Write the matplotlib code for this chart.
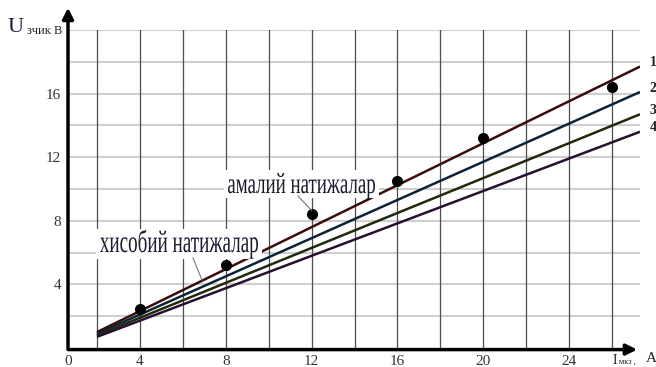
import matplotlib
matplotlib.use("Agg")
import matplotlib.pyplot as plt
import numpy as np
from matplotlib.textpath import TextPath
from matplotlib.patches import PathPatch, Rectangle
from matplotlib.font_manager import FontProperties
from matplotlib.transforms import Affine2D, IdentityTransform

# --- данные ---
# расчётные прямые (начало и конец по току)
I_calc = [2.0, 27.3]
U_calc = {
    "1": [1.0, 17.7],
    "2": [0.9, 16.1],
    "3": [0.8, 14.7],
    "4": [0.7, 13.6],
}
line_colors = ["#3a0c0c", "#0e2236", "#1f2a0c", "#28102e"]

# экспериментальные точки
I_exp = [4, 8, 12, 16, 20, 26]
U_exp = [2.45, 5.2, 8.4, 10.5, 13.2, 16.4]

x_ticks = [4, 8, 12, 16, 20, 24]
y_ticks = [4, 8, 12, 16]

serif = "Liberation Serif"
W, H = 656, 367

fig = plt.figure(figsize=(W / 100, H / 100), dpi=100)
ax = fig.add_axes([68 / W, 1 - 348 / H, 572 / W, 318 / H])
ax.set_xlim(0.65, 27.3)
ax.set_ylim(0, 20)

# сетка
for gx in np.arange(2, 27, 2):
    ax.axvline(gx, color="#4d4d4d", lw=0.9, zorder=1)
for gy in np.arange(2, 21, 2):
    ax.axhline(gy, color="#cfcfcf", lw=1.5, zorder=0.9)

for s in ax.spines.values():
    s.set_visible(False)
ax.tick_params(length=0, pad=5, labelsize=11, labelcolor="#333333")
ax.set_xticks([0.65] + x_ticks)
ax.set_xticklabels(["0"] + [str(t) for t in x_ticks], fontfamily=serif)
ax.set_yticks(y_ticks)
ax.set_yticklabels([str(t) for t in y_ticks], fontfamily=serif)

# оси со стрелками
arrow = dict(arrowstyle="-|>", lw=2.5, color="black", mutation_scale=16, shrinkA=0, shrinkB=0)
ax.annotate("", xy=(0, 1.07), xytext=(0, 0), xycoords="axes fraction",
            arrowprops=arrow, annotation_clip=False, zorder=5)
ax.annotate("", xy=(0.995, -0.005), xytext=(0, -0.005), xycoords="axes fraction",
            arrowprops=arrow, annotation_clip=False, zorder=5)

# расчётные прямые
for (name, u), c in zip(U_calc.items(), line_colors):
    ax.plot(I_calc, u, color=c, lw=1.8, zorder=3, solid_capstyle="butt")
    ax.text(I_calc[1] + 0.45, u[1] + 0.25, name, fontfamily=serif, fontweight="bold",
            fontsize=10, color="#222222", va="center", clip_on=False)

# экспериментальные точки
ax.plot(I_exp, U_exp, "o", color="black", ms=7, zorder=4)


def px(x, y):
    # пиксели от левого верхнего угла -> координаты дисплея
    return x, H - y


def narrow_label(text, left, right, top_box, bottom_box, baseline, xheight):
    # узкий (сжатый по ширине) текст на белой подложке
    fp = FontProperties(family=serif)
    tp = TextPath((0, 0), text, size=1, prop=fp)
    ext = tp.get_extents()
    xh = TextPath((0, 0), "а", size=1, prop=fp).get_extents().height
    sy = xheight / xh
    sx = (right - left) / ext.width
    bx, by = px(left - 4, bottom_box)
    fig.add_artist(Rectangle((bx, by), right - left + 8, bottom_box - top_box,
                             transform=IdentityTransform(), facecolor="white",
                             edgecolor="none", zorder=2))
    x0, y0 = px(left, baseline)
    tr = Affine2D().scale(sx, sy).translate(x0 - ext.x0 * sx, y0)
    fig.add_artist(PathPatch(tp, transform=tr, facecolor="#1a1a30",
                             edgecolor="none", lw=0, zorder=3))


def leader(x0, y0, x1, y1):
    a, b = px(x0, y0)
    c, d = px(x1, y1)
    fig.add_artist(plt.Line2D([a, c], [b, d], transform=IdentityTransform(),
                              color="#777777", lw=0.8, zorder=2.5))


narrow_label("амалий натижалар", 228, 375, 170, 198, 193, 14)
tx, ty = ax.transData.transform((I_exp[2], U_exp[2] + 0.25))
leader(298, 196, tx, H - ty)
narrow_label("хисобий натижалар", 100, 258, 229, 259, 252, 15)
leader(193, 258, 202, 280)

# подписи осей
fig.text(8 / W, 1 - 28 / H, "U", fontfamily=serif, fontsize=16, color="#1a1a3a", va="center")
fig.text(27 / W, 1 - 31 / H, "зчик В", fontfamily=serif, fontsize=9, color="#222222", va="center")
fig.text(613 / W, 1 - 361 / H, "I", fontfamily=serif, fontsize=10, color="#222222", va="center")
fig.text(619 / W, 1 - 362 / H, "мкз ,", fontfamily=serif, fontsize=6, color="#222222", va="center")
fig.text(646 / W, 1 - 359 / H, "A", fontfamily=serif, fontsize=11, color="#222222", va="center")

fig.savefig("out.png", dpi=100)
